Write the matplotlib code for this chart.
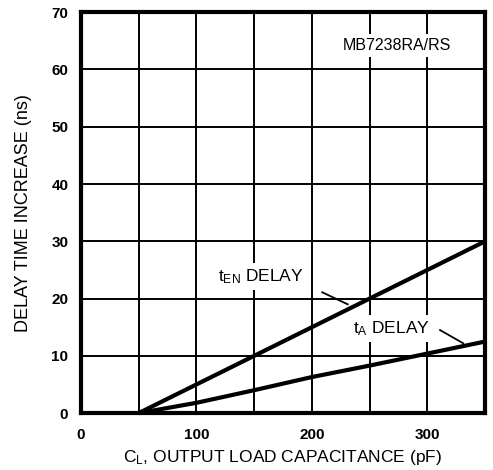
import matplotlib
matplotlib.use("Agg")
import matplotlib.pyplot as plt

plt.rcParams['font.family'] = ['Liberation Sans', 'DejaVu Sans']
plt.rcParams['mathtext.fontset'] = 'custom'
plt.rcParams['mathtext.rm'] = 'Liberation Sans'

# Load capacitance (pF) and delay increase (ns)
cap_en = [50, 350]
ten_delay = [0, 30]
cap_a = [50, 100, 150, 200, 250, 300, 350]
ta_delay = [0, 1.8, 4.0, 6.3, 8.3, 10.4, 12.5]

x_ticks = [0, 100, 200, 300]
y_ticks = [0, 10, 20, 30, 40, 50, 60, 70]

fig = plt.figure(figsize=(4.93, 4.70), dpi=100)
ax = fig.add_axes([0.164, 0.121, 0.820, 0.853])
ax.set_xlim(0, 350)
ax.set_ylim(0, 70)

for x in range(50, 350, 50):
    ax.axvline(x, color='black', lw=1.4, zorder=1)
for y in range(10, 70, 10):
    ax.axhline(y, color='black', lw=1.4, zorder=1)

ax.plot(cap_en, ten_delay, color='black', lw=3, solid_capstyle='butt', zorder=3, clip_on=False)
ax.plot(cap_a, ta_delay, color='black', lw=3, solid_capstyle='butt', zorder=3, clip_on=False)

for s in ax.spines.values():
    s.set_linewidth(3)

ax.set_xticks(x_ticks)
ax.set_yticks(y_ticks)
ax.tick_params(length=0, labelsize=11)
ax.tick_params(axis='x', pad=11)
ax.tick_params(axis='y', pad=9)
for lab in ax.get_xticklabels() + ax.get_yticklabels():
    lab.set_fontweight('bold')

box = dict(facecolor='white', edgecolor='none', pad=3)
ax.text(274, 64.2, 'MB7238RA/RS', ha='center', va='center', fontsize=11.5, bbox=box, zorder=4)
ax.text(156, 23.9, r't$\mathregular{_{EN}}$ DELAY', ha='center', va='center', fontsize=12.5, bbox=box, zorder=4)
ax.text(269, 14.8, r't$\mathregular{_{A}}$ DELAY', ha='center', va='center', fontsize=12.5, bbox=box, zorder=4)
ax.plot([209, 231], [21.1, 19.0], color='black', lw=1.3, zorder=4)
ax.plot([311, 331], [14.5, 12.2], color='black', lw=1.3, zorder=4)

ax.set_xlabel(r'C$\mathregular{_{L}}$, OUTPUT LOAD CAPACITANCE (pF)', fontsize=12.5, labelpad=4)
ax.set_ylabel('DELAY TIME INCREASE (ns)', fontsize=13, labelpad=14)

fig.savefig('out.png', dpi=100)
